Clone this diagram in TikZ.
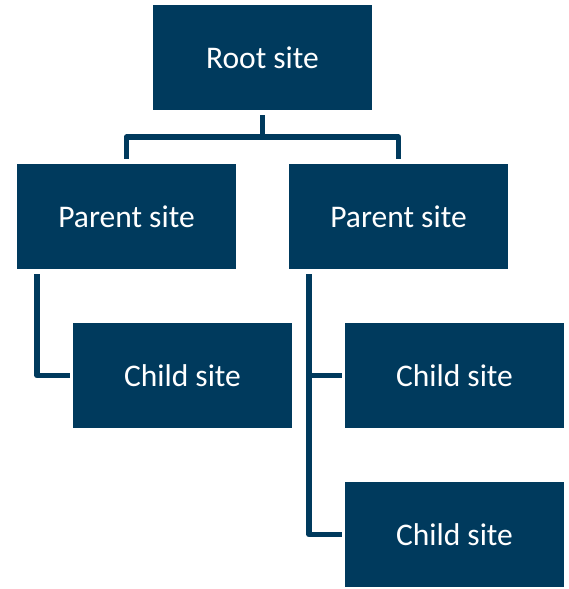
\documentclass[tikz,border=0pt]{standalone}
\usepackage{fontspec}
\setmainfont{Carlito}
\definecolor{navy}{RGB}{0,58,93}
\begin{document}
\begin{tikzpicture}[x=1pt,y=-1pt,
  site/.style={fill=navy,text=white,minimum width=219pt,minimum height=105pt,inner sep=0pt,font=\fontsize{31.5}{36}\selectfont},
  conn/.style={draw=navy,line width=5.5pt,line cap=rect,line join=round}]
\useasboundingbox (0,0) rectangle (569,589);
\node[site] (root) at (262.5,57.5) {Root site};
\node[site] (p1) at (126.5,216.5) {Parent site};
\node[site] (p2) at (398.5,216.5) {Parent site};
\node[site] (c1) at (182.5,375.5) {Child site};
\node[site] (c2) at (454.5,375.5) {Child site};
\node[site] (c3) at (454.5,534.5) {Child site};
\coordinate (j) at (262.5,137);
\draw[conn] ([yshift=-8pt]root.south) -- (j);
\draw[conn] ([yshift=8pt]p1.north) |- (j) -| ([yshift=8pt]p2.north);
\draw[conn] ([xshift=-89.5pt,yshift=-8pt]p1.south) |- ([xshift=-6pt]c1.west);
\draw[conn] ([xshift=-89.5pt,yshift=-8pt]p2.south) |- ([xshift=-6pt]c3.west);
\draw[conn] ([xshift=-35pt]c2.west) -- ([xshift=-6pt]c2.west);
\end{tikzpicture}
\end{document}
